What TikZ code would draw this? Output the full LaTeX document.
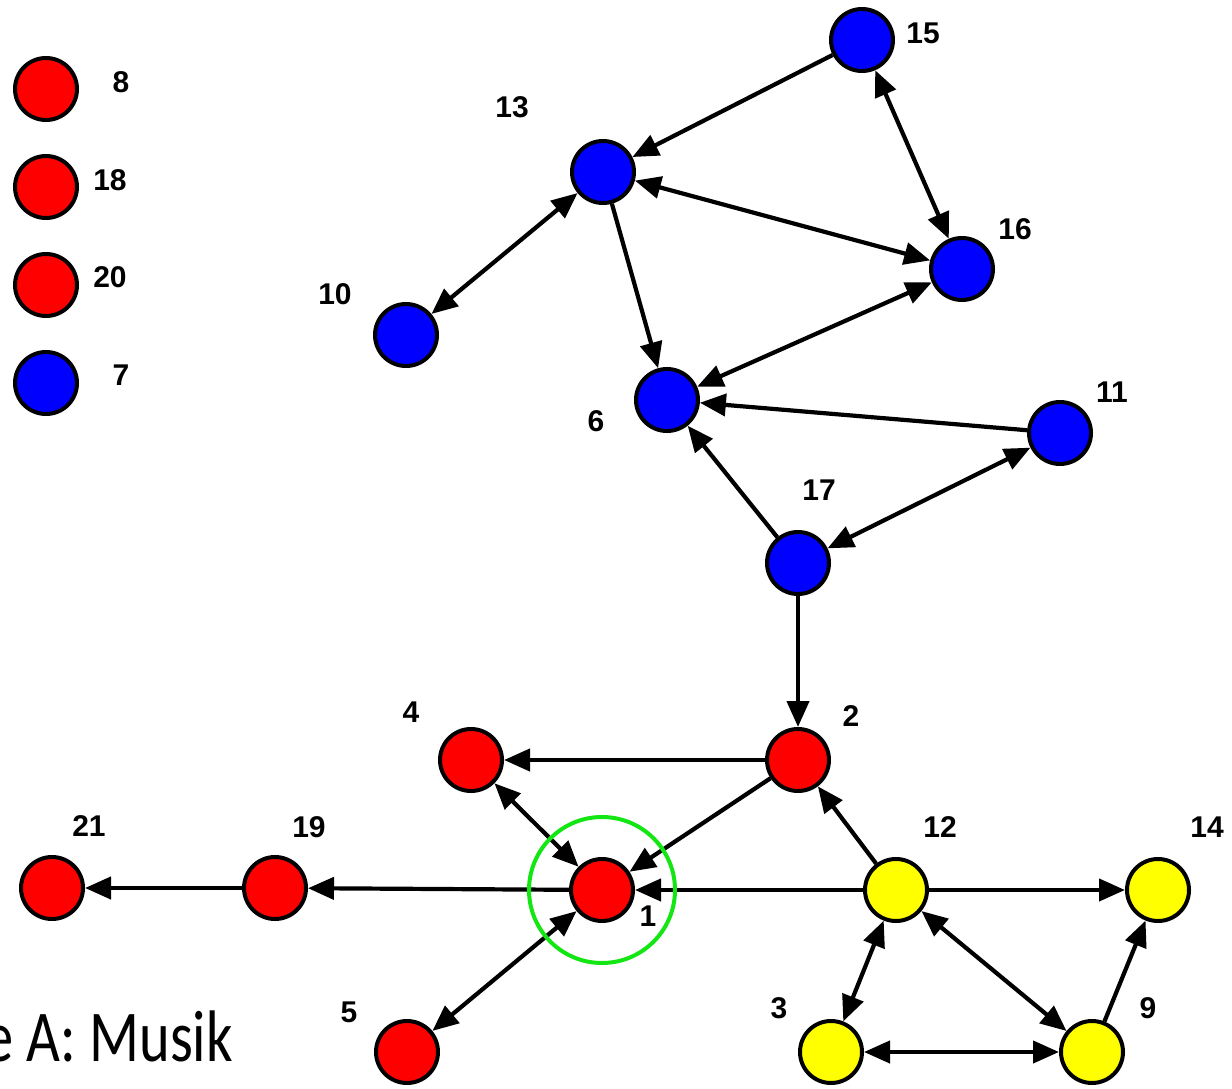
\documentclass[tikz,border=0pt]{standalone}
\usepackage{fontspec}
\setmainfont{Liberation Sans}
\newfontfamily\capfont{Carlito}
\usetikzlibrary{arrows.meta}
\definecolor{vred}{RGB}{255,0,0}
\definecolor{vblue}{RGB}{0,0,255}
\definecolor{vyellow}{RGB}{255,255,0}
\definecolor{vgreen}{RGB}{20,230,20}
\tikzset{
  vtx/.style={circle, draw=black, line width=4pt, minimum size=62pt, inner sep=0pt},
  rv/.style={vtx, fill=vred},
  bv/.style={vtx, fill=vblue},
  yv/.style={vtx, fill=vyellow},
  lab/.style={font=\fontsize{30}{30}\selectfont\bfseries, inner sep=0pt},
  edge/.style={line width=4.2pt, -{Triangle[length=26pt,width=22pt]}},
  bedge/.style={line width=4.2pt, {Triangle[length=26pt,width=22pt]}-{Triangle[length=26pt,width=22pt]}},
}
\begin{document}
\begin{tikzpicture}[x=1pt,y=-1pt]
\useasboundingbox (0,0) rectangle (1232,1089);
% legend
\node[rv] (l8) at (46,89) {};
\node[rv] (l18) at (46,187) {};
\node[rv] (l20) at (46,285) {};
\node[bv] (l7) at (46,383) {};
\node[lab] (t8) at (121,82) {8};
\node[lab] (t18) at (110,180) {18};
\node[lab] (t20) at (110,277) {20};
\node[lab] (t7) at (121,375) {7};
% blue nodes
\node[bv] (n15) at (862,40) {};
\node[bv] (n13) at (603,172) {};
\node[bv] (n16) at (962,269) {};
\node[bv] (n10) at (406,335) {};
\node[bv] (n6) at (667,400) {};
\node[bv] (n11) at (1060,433) {};
\node[bv] (n17) at (798,563) {};
% red nodes
\node[rv] (n2) at (798,760) {};
\node[rv] (n4) at (471,760) {};
\node[rv] (n1) at (602,890) {};
\node[rv] (n21) at (52,888) {};
\node[rv] (n19) at (275,888) {};
\node[rv] (n5) at (407,1052) {};
% yellow nodes
\node[yv] (n12) at (896,890) {};
\node[yv] (n14) at (1158,890) {};
\node[yv] (n3) at (831,1052) {};
\node[yv] (n9) at (1092,1052) {};
% labels
\node[lab] (t15) at (923,33) {15};
\node[lab] (t13) at (512,107) {13};
\node[lab] (t16) at (1015,229) {16};
\node[lab] (t10) at (335,294) {10};
\node[lab] (t6) at (596,421) {6};
\node[lab] (t11) at (1112,392) {11};
\node[lab] (t17) at (819,490) {17};
\node[lab] (t2) at (851,716) {2};
\node[lab] (t4) at (411,712) {4};
\node[lab] (t1) at (648,916) {1};
\node[lab] (t21) at (89,826) {21};
\node[lab] (t19) at (309,827) {19};
\node[lab] (t5) at (349,1012) {5};
\node[lab] (t12) at (940,827) {12};
\node[lab] (t14) at (1207,827) {14};
\node[lab] (t3) at (779,1008) {3};
\node[lab] (t9) at (1148,1008) {9};
% edges
\draw[edge] (n15) -- (n13);
\draw[bedge] (n15) -- (n16);
\draw[bedge] (n13) -- (n16);
\draw[bedge] (n13) -- (n10);
\draw[edge] (n13) -- (n6);
\draw[bedge] (n16) -- (n6);
\draw[edge] (n11) -- (n6);
\draw[edge] (n17) -- (n6);
\draw[bedge] (n17) -- (n11);
\draw[edge] (n17) -- (n2);
\draw[edge] (n2) -- (n4);
\draw[edge] (n2) -- (n1);
\draw[bedge] (n4) -- (n1);
\draw[edge] (n12) -- (n1);
\draw[edge] (n1) -- (n19);
\draw[edge] (n19) -- (n21);
\draw[bedge] (n5) -- (n1);
\draw[edge] (n12) -- (n2);
\draw[edge] (n12) -- (n14);
\draw[bedge] (n12) -- (n3);
\draw[bedge] (n12) -- (n9);
\draw[bedge] (n3) -- (n9);
\draw[edge] (n9) -- (n14);
% highlight
\node[circle, draw=vgreen, line width=4pt, minimum size=146pt, inner sep=0pt] (hl) at (n1) {};
% caption
\node[anchor=base east, inner sep=0pt, font=\capfont\fontsize{73}{73}\selectfont] (cap) at (233,1061) {\scalebox{0.8}[1]{e A: Musik}};
\end{tikzpicture}
\end{document}
